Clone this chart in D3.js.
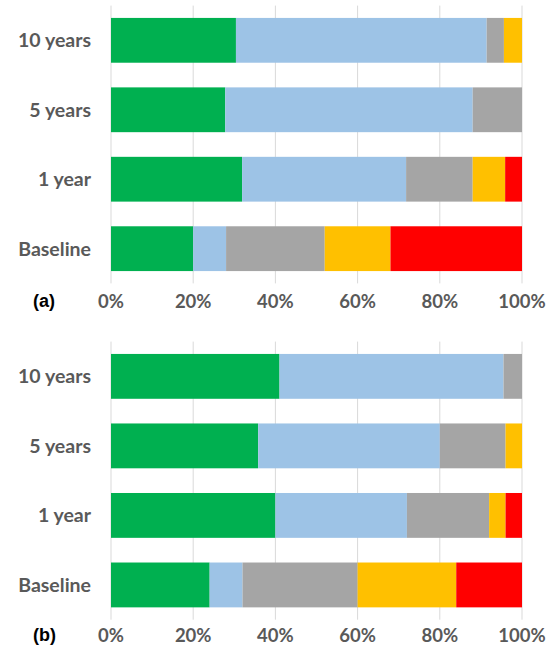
<!DOCTYPE html>
<html>
<head>
<meta charset="utf-8">
<script src="https://cdn.jsdelivr.net/npm/d3@7"></script>
<style>
  body { margin: 0; background: #fff; }
  text { font-family: Lato, "Open Sans", sans-serif; font-weight: bold; }
</style>
</head>
<body>
<div id="chart"></div>
<script>
// Categories, top to bottom
var categories = ["10 years", "5 years", "1 year", "Baseline"];
var seriesColors = ["#00B050", "#9DC3E6", "#A5A5A5", "#FFC000", "#FF0000"];
var tickValues = [0, 0.2, 0.4, 0.6, 0.8, 1];

// Shares (%) for each category, panel (a)
var panelA = [
    [30.4, 61.0, 4.2, 4.4, 0],
    [27.8, 60.2, 12.0, 0, 0],
    [31.9, 39.9, 16.2, 7.9, 4.1],
    [20.0, 8.0, 24.0, 16.0, 32.0]
];
// Shares (%) for each category, panel (b)
var panelB = [
    [41.0, 54.5, 4.5, 0, 0],
    [35.8, 44.2, 16.0, 4.0, 0],
    [40.0, 32.0, 20.0, 4.0, 4.0],
    [24.0, 8.0, 28.0, 24.0, 16.0]
];

var width = 555, height = 648;
var svg = d3.select("#chart").append("svg")
        .attr("width", width)
        .attr("height", height);

var x = d3.scaleLinear().domain([0, 1]).range([111, 522]);

var drawPanel = function(data, top, bottom, labelY, label) {
    var y = d3.scaleBand()
            .domain(categories)
            .range([top, bottom])
            .paddingInner(0.355)
            .paddingOuter(0.1775);
    var g = svg.append("g");

    // Gridlines
    g.selectAll("line.grid").data(tickValues).enter().append("line")
            .attr("x1", function(d) { return x(d); })
            .attr("x2", function(d) { return x(d); })
            .attr("y1", top)
            .attr("y2", bottom)
            .style("stroke", "#D9D9D9")
            .style("stroke-width", 1);

    // Stacked segments
    categories.forEach(function(cat, i) {
        var total = d3.sum(data[i]);
        var acc = 0;
        var segs = data[i].map(function(v, k) {
            var s = {x0: acc / total, x1: (acc + v) / total, k: k};
            acc += v;
            return s;
        }).filter(function(s) { return s.x1 > s.x0; });
        g.selectAll(null).data(segs).enter().append("rect")
                .attr("x", function(s) { return x(s.x0); })
                .attr("y", y(cat))
                .attr("width", function(s) { return x(s.x1) - x(s.x0); })
                .attr("height", y.bandwidth())
                .style("fill", function(s) { return seriesColors[s.k]; });
    });

    // Category labels
    g.selectAll("text.cat").data(categories).enter().append("text")
            .attr("x", 91)
            .attr("y", function(d) { return y(d) + y.bandwidth() / 2; })
            .attr("dy", "0.35em")
            .attr("text-anchor", "end")
            .style("font-size", "19.5px")
            .style("fill", "#595959")
            .text(function(d) { return d; });

    // Tick labels
    g.selectAll("text.tick").data(tickValues).enter().append("text")
            .attr("x", function(d) { return x(d); })
            .attr("y", labelY)
            .attr("dy", "0.35em")
            .attr("text-anchor", "middle")
            .style("font-size", "18.5px")
            .style("fill", "#595959")
            .text(d3.format(".0%"));

    // Panel label
    g.append("text")
            .attr("x", 33)
            .attr("y", labelY - 1)
            .attr("dy", "0.35em")
            .style("font-family", "'Liberation Sans', Arial, sans-serif")
            .style("font-size", "18px")
            .style("fill", "#000")
            .text(label);
};

drawPanel(panelA, 5.6, 283.4, 302, "(a)");
drawPanel(panelB, 341.6, 619.7, 636, "(b)");
</script>
</body>
</html>
